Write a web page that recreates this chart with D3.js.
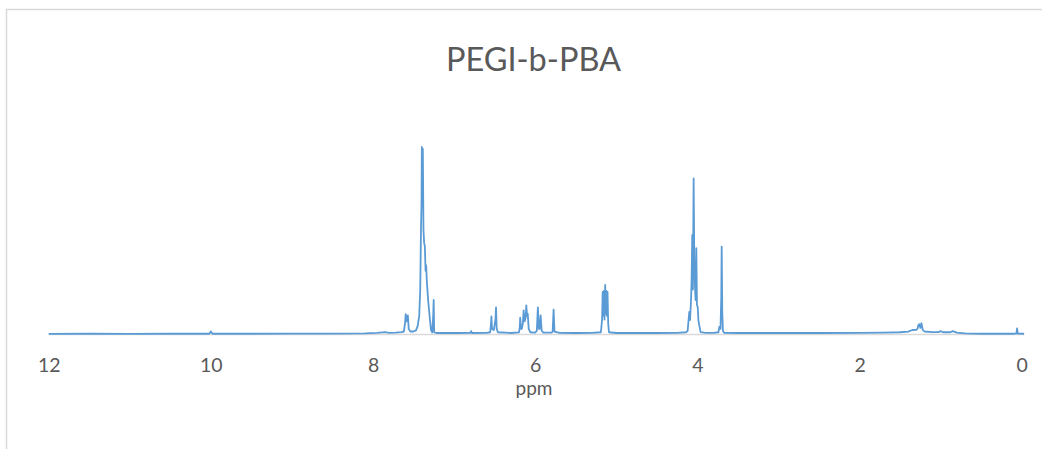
<!DOCTYPE html>
<html>
<head>
<meta charset="utf-8">
<script src="https://cdn.jsdelivr.net/npm/d3@7"></script>
<style>
  html, body { margin: 0; padding: 0; background: #fff; }
  svg { display: block; }
  text { font-family: Lato, "Open Sans", sans-serif; fill: #595959; }
</style>
</head>
<body>
<svg id="chart" width="1042" height="449"></svg>
<script>
const title = "PEGI-b-PBA";
const xLabel = "ppm";
const xTicks = [12, 10, 8, 6, 4, 2, 0];

const ppm = [12.00, 11.5, 11.0, 10.5, 10.02, 10.0, 9.98, 9.5, 9.0, 8.5, 8.1, 7.95, 7.85, 7.80, 7.72, 7.65, 7.62,
  7.605, 7.597, 7.587, 7.578, 7.571, 7.56, 7.54, 7.50, 7.47, 7.45, 7.43, 7.418, 7.408, 7.402, 7.398, 7.392, 7.386,
  7.378, 7.37, 7.361, 7.352, 7.345, 7.336, 7.32, 7.30, 7.285, 7.27, 7.258, 7.252, 7.246, 7.22, 7.10, 6.95, 6.80,
  6.79, 6.78, 6.60, 6.555, 6.545, 6.54, 6.532, 6.51, 6.49, 6.483, 6.475, 6.46, 6.30, 6.20, 6.19, 6.185, 6.175,
  6.165, 6.152, 6.143, 6.13, 6.117, 6.11, 6.10, 6.092, 6.08, 6.06, 6.00, 5.98, 5.967, 5.955, 5.945, 5.933, 5.92,
  5.90, 5.80, 5.785, 5.773, 5.762, 5.70, 5.50, 5.30, 5.19, 5.175, 5.168, 5.16, 5.153, 5.145, 5.137, 5.13, 5.122,
  5.115, 5.108, 5.10, 5.09, 5.00, 4.80, 4.50, 4.25, 4.14, 4.12, 4.10, 4.09, 4.079, 4.071, 4.063, 4.055, 4.046,
  4.038, 4.03, 4.022, 4.013, 4.005, 3.996, 3.987, 3.977, 3.96, 3.90, 3.80, 3.74, 3.73, 3.715, 3.705, 3.70, 3.693,
  3.685, 3.67, 3.50, 3.00, 2.50, 2.00, 1.70, 1.50, 1.40, 1.35, 1.30, 1.285, 1.275, 1.262, 1.25, 1.237, 1.22,
  1.20, 1.10, 1.02, 1.00, 0.97, 0.88, 0.85, 0.80, 0.70, 0.50, 0.30, 0.10, 0.065, 0.057, 0.049, -0.03];

const intensity = [0.3, 0.4, 0.3, 0.4, 0.4, 1.6, 0.4, 0.4, 0.5, 0.5, 0.6, 0.9, 1.3, 0.9, 1.0, 1.3, 1.6,
  6, 10.9, 7, 9, 10.2, 3, 1.6, 1.6, 2.2, 4.5, 10, 24, 58, 70, 100, 82, 99,
  56, 49, 47, 34, 37, 28, 18, 8.8, 2.4, 1.1, 10, 18.4, 1.2, 0.8, 0.9, 0.8, 0.9,
  1.8, 0.8, 0.9, 1.2, 6, 9.6, 3, 2.4, 8, 14.4, 3, 1.2, 0.8, 1.1, 4, 9, 3,
  3, 6, 12.9, 7, 9, 15.5, 10, 11, 3, 1.2, 1.0, 2, 14.5, 3, 3, 10.2, 2,
  1.0, 1.0, 1.5, 13.3, 1.5, 0.9, 0.8, 0.9, 1.2, 8, 22.7, 10, 23.2, 8, 26.4, 11, 23.2,
  10, 22.7, 6, 1.2, 0.8, 0.8, 0.8, 0.9, 1.2, 1.9, 12, 7.7, 17.5, 29, 53, 24, 83.2,
  40, 26.4, 18.4, 46, 15.7, 14.8, 7.7, 5, 1.3, 0.9, 0.9, 1.2, 4, 3, 20, 46.8, 12,
  2, 0.9, 0.8, 0.8, 0.8, 0.9, 1.0, 1.2, 1.5, 2.4, 2.5, 3, 5, 5.5, 3.5, 6, 2.5,
  1.6, 1.3, 1.3, 1.8, 1.2, 1.2, 1.8, 1.0, 0.6, 0.4, 0.4, 0.4, 0.6, 3.3, 0.5, 0.4];

const svg = d3.select("#chart");

// chart area border
svg.append("rect")
  .attr("x", 6.5).attr("y", 9.5)
  .attr("width", 1100).attr("height", 500)
  .attr("fill", "none").attr("stroke", "#d9d9d9").attr("stroke-width", 1.5);

const x = d3.scaleLinear().domain([12, 0]).range([48.7, 1021.7]);
const y = d3.scaleLinear().domain([0, 120]).range([334.5, 109.5]);

// horizontal axis line
svg.append("line")
  .attr("x1", x(12)).attr("x2", x(-0.03))
  .attr("y1", y(0)).attr("y2", y(0))
  .attr("stroke", "#d9d9d9").attr("stroke-width", 1.5);

// tick labels via axis
const axis = d3.axisBottom(x).tickValues(xTicks).tickSize(0).tickPadding(0).tickFormat(d3.format("d"));
const gAxis = svg.append("g").attr("transform", `translate(0,${y(0)})`).call(axis);
gAxis.select(".domain").remove();
gAxis.selectAll("text")
  .attr("dy", null)
  .attr("y", 37)
  .style("font-family", "Lato, 'Open Sans', sans-serif")
  .style("font-size", "19.5px")
  .attr("fill", "#595959");

// spectrum line
const pts = ppm.map((p, i) => [p, intensity[i]]);
const line = d3.line().x(d => x(d[0])).y(d => y(d[1]));
svg.append("path")
  .datum(pts)
  .attr("d", line)
  .attr("fill", "none")
  .attr("stroke", "#5b9bd5")
  .attr("stroke-width", 1.8)
  .attr("stroke-linejoin", "round");

// title
svg.append("text")
  .attr("x", 533.5).attr("y", 71)
  .attr("text-anchor", "middle")
  .style("font-size", "32.5px")
  .text(title);

// x label
svg.append("text")
  .attr("x", 534).attr("y", 394.5)
  .attr("text-anchor", "middle")
  .style("font-size", "19px")
  .text(xLabel);
</script>
</body>
</html>
